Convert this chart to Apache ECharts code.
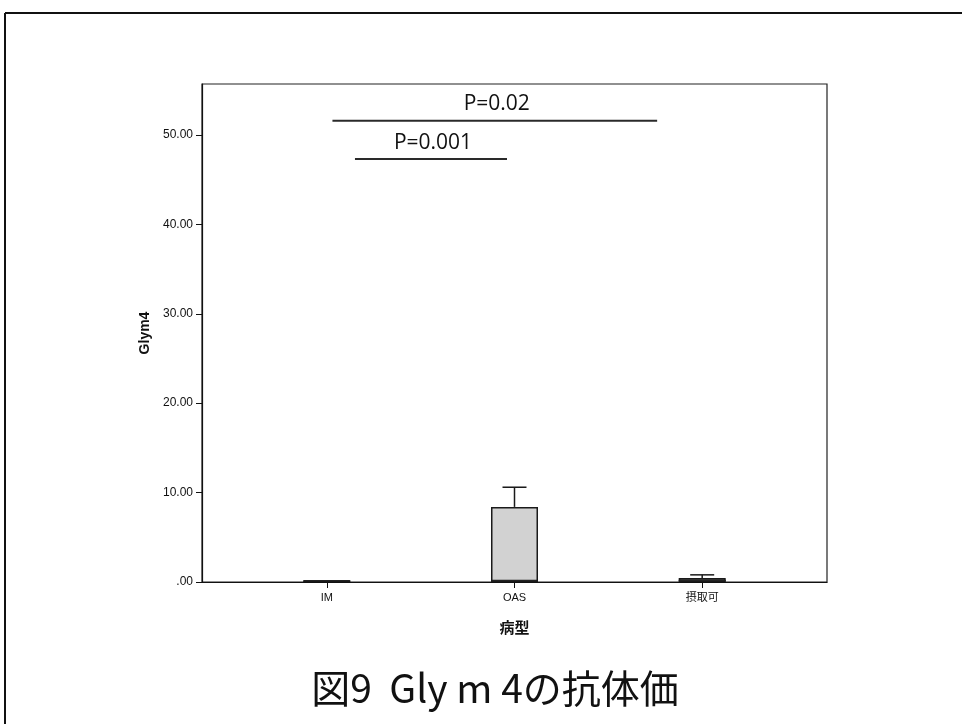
<!DOCTYPE html>
<html>
<head>
<meta charset="utf-8">
<script src="https://cdn.jsdelivr.net/npm/echarts@6/dist/echarts.min.js"></script>
<style>
  html, body { margin: 0; padding: 0; background: #fff; }
  #chart { width: 962px; height: 724px; }
</style>
</head>
<body>
<div id="chart"></div>
<script>
// Groups (病型) and their values of Glym4
const categories = ['IM', 'OAS', '摂取可'];
const categoryPos = [1, 2, 3];
const barValues = [0.2, 8.4, 0.45];
const baseBand = [0.2, 0.25, 0.3];
const errorTops = [null, 10.6, 0.8];
const yTicks = [0, 10, 20, 30, 40, 50];

// Significance brackets: [start, end, height, label]
const sigStart = [1.03, 1.15];
const sigEnd = [2.76, 1.96];
const sigHeight = [51.6, 47.3];
const sigLabel = ['P=0.02', 'P=0.001'];

const chart = echarts.init(document.getElementById('chart'), null, { renderer: 'canvas' });

const barData = categoryPos.map((x, i) => [x, barValues[i]]);
const bandData = categoryPos.map((x, i) => [x, baseBand[i]]);
const errData = categoryPos
  .map((x, i) => errorTops[i] == null ? null : [x, barValues[i], errorTops[i]])
  .filter(d => d);
const sigData = sigLabel.map((t, i) => [sigStart[i], sigEnd[i], sigHeight[i], t]);

const axisFont = 'Liberation Sans, Arial, sans-serif';

chart.setOption({
  animation: false,
  backgroundColor: '#fff',
  title: {
    text: '図9  Gly m 4の抗体価',
    left: 490,
    top: 664,
    textAlign: 'center',
    textStyle: {
      fontFamily: 'Noto Sans CJK JP',
      fontSize: 39,
      fontWeight: 'normal',
      color: '#111'
    }
  },
  grid: {
    left: 202, top: 84, width: 625, height: 498,
    show: true, borderColor: '#222', borderWidth: 1.2, backgroundColor: '#fff'
  },
  xAxis: {
    type: 'value',
    min: 0.335,
    max: 3.665,
    name: '病型',
    nameLocation: 'middle',
    nameGap: 38,
    nameTextStyle: { fontFamily: 'Noto Sans CJK JP', fontSize: 15, fontWeight: 'bold', color: '#111' },
    splitLine: { show: false },
    axisLine: { show: true, lineStyle: { color: '#111', width: 1.2 } },
    axisTick: { show: true, customValues: categoryPos, length: 6, inside: false, lineStyle: { color: '#111' } },
    axisLabel: {
      customValues: categoryPos,
      margin: 10,
      fontFamily: axisFont + ', Noto Sans CJK JP',
      fontSize: 11,
      color: '#111',
      formatter: v => categories[categoryPos.indexOf(Math.round(v))] || ''
    }
  },
  yAxis: {
    type: 'value',
    min: 0,
    max: 55.7,
    name: 'Glym4',
    nameLocation: 'middle',
    nameGap: 48,
    nameRotate: 90,
    nameTextStyle: { fontFamily: axisFont, fontSize: 14, fontWeight: 'bold', color: '#111' },
    splitLine: { show: false },
    axisLine: { show: true, lineStyle: { color: '#111', width: 1.2 } },
    axisTick: { show: true, customValues: yTicks, length: 6, lineStyle: { color: '#111' } },
    axisLabel: {
      customValues: yTicks,
      margin: 9,
      fontFamily: axisFont,
      fontSize: 12,
      color: '#111',
      formatter: v => v === 0 ? '.00' : v.toFixed(2)
    }
  },
  series: [
    {
      type: 'bar',
      data: barData,
      barWidth: 47,
      itemStyle: { color: '#d2d2d2', borderColor: '#1a1a1a', borderWidth: 1.5 },
      z: 2
    },
    {
      // dark band along the base of each bar
      type: 'bar',
      data: bandData,
      barWidth: 47,
      barGap: '-100%',
      itemStyle: { color: '#2a2a2a', borderColor: '#1a1a1a', borderWidth: 1 },
      z: 3
    },
    {
      // whiskers above each bar
      type: 'custom',
      data: errData,
      z: 3,
      renderItem: (params, api) => {
        const x = api.value(0);
        const base = api.coord([x, api.value(1)]);
        const top = api.coord([x, api.value(2)]);
        const half = 12;
        return {
          type: 'group',
          children: [
            { type: 'line', shape: { x1: base[0], y1: base[1], x2: top[0], y2: top[1] },
              style: { stroke: '#1a1a1a', lineWidth: 1.5 } },
            { type: 'line', shape: { x1: top[0] - half, y1: top[1], x2: top[0] + half, y2: top[1] },
              style: { stroke: '#1a1a1a', lineWidth: 1.5 } }
          ]
        };
      }
    },
    {
      // significance brackets with p-values
      type: 'custom',
      data: sigData,
      z: 4,
      renderItem: (params, api) => {
        const a = api.coord([api.value(0), api.value(2)]);
        const b = api.coord([api.value(1), api.value(2)]);
        const label = sigLabel[params.dataIndex];
        return {
          type: 'group',
          children: [
            { type: 'line', shape: { x1: a[0], y1: a[1], x2: b[0], y2: a[1] },
              style: { stroke: '#2a2a2a', lineWidth: 2 } },
            { type: 'text', x: (a[0] + b[0]) / 2 + 2, y: a[1] - 6,
              style: { text: label, fill: '#111', fontSize: 21, fontFamily: 'Open Sans, sans-serif',
                       align: 'center', verticalAlign: 'bottom' } }
          ]
        };
      }
    }
  ],
  graphic: [
    // outer frame (top and left edges)
    { type: 'line', shape: { x1: 5, y1: 13, x2: 962, y2: 13 }, style: { stroke: '#111', lineWidth: 2 } },
    { type: 'line', shape: { x1: 5, y1: 13, x2: 5, y2: 724 }, style: { stroke: '#111', lineWidth: 2 } }
  ]
});
</script>
</body>
</html>
